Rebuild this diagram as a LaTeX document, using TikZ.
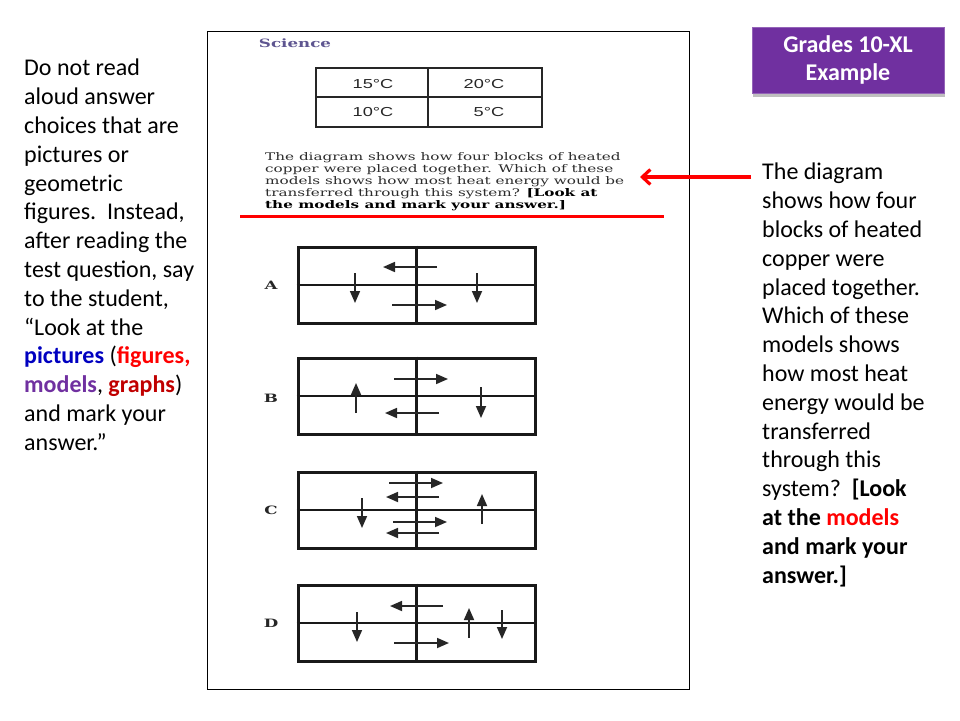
\documentclass[tikz,border=0pt]{standalone}
\usepackage{fontspec}
\setmainfont{Carlito}
\newfontfamily\scanserif[FakeStretch=1.45]{DejaVu Serif}
\newfontfamily\scansans[FakeStretch=1.4]{Liberation Sans}
\usetikzlibrary{arrows.meta,shadows}
\definecolor{slidepurple}{HTML}{7030A0}
\definecolor{darkred}{HTML}{C00000}
\definecolor{slideblue}{HTML}{0000C0}
\definecolor{scanink}{HTML}{2C2C2C}
\definecolor{scantitle}{HTML}{5E5590}
\tikzset{
  slidetext/.style={anchor=north west, inner sep=0pt, align=left, font=\fontsize{24}{28.8}\selectfont},
  gradebox/.style={draw=slidepurple!75!white, line width=1pt, fill=slidepurple, text=white, align=center,
    minimum width=192pt, minimum height=66pt, font=\bfseries\fontsize{24}{28}\selectfont,
    drop shadow={shadow xshift=1pt, shadow yshift=-4pt, opacity=0.5}},
  scantext/.style={anchor=north west, inner sep=0pt, align=left, text=scanink, font=\scanserif\fontsize{10.5}{12.1}\selectfont},
  cell/.style={text=black!85, font=\scansans\fontsize{13}{13}\selectfont},
  optlabel/.style={text=black!85, font=\scanserif\bfseries\fontsize{11.5}{12}\selectfont},
  modelbox/.style={draw=black!90, line width=3pt, minimum width=237pt, minimum height=76pt, inner sep=0pt},
  heat/.style={draw=black!85, line width=1.7pt, -{Triangle[length=12pt,width=10pt]}},
  redline/.style={draw=red, line width=3pt},
  pointer/.style={draw=red, line width=3.2pt, -{Straight Barb[length=8pt,width=15pt]}}
}
\begin{document}
\begin{tikzpicture}[x=1pt,y=-1pt]
  \useasboundingbox (0,0) rectangle (960,720);

  % left note
  \node[slidetext] (howto) at (24,59) {Do not read\\ aloud answer\\ choices that are\\ pictures or\\ geometric\\
    figures.\ \ Instead,\\ after reading the\\ test question, say\\ to the student,\\ “Look at the\\
    \textcolor{slideblue}{\textbf{pictures}} (\textcolor{red}{\textbf{figures,}}\\
    \textcolor{slidepurple}{\textbf{models}}, \textcolor{darkred}{\textbf{graphs}})\\ and mark your\\ answer.”};

  % grade label
  \node[gradebox] (grade) at (848,60) {Grades 10-XL\\Example};

  % scanned test page
  \draw[line width=0.8pt] (207,31) rectangle (689,689);
  \node[text=scantitle, font=\scanserif\bfseries\fontsize{11.5}{12}\selectfont] (subj) at (295,43) {Science};

  \draw[line width=1.6pt, draw=black!85] (316,68) rectangle (542,127);
  \draw[line width=1.6pt, draw=black!85] (428,68) -- (428,127);
  \draw[line width=1.1pt, draw=black!85] (316,97) -- (542,97);
  \node[cell] (t11) at (373,84) {15°C};
  \node[cell] (t12) at (484,84) {20°C};
  \node[cell] (t21) at (373,112) {10°C};
  \node[cell] (t22) at (489,112) {5°C};

  \node[scantext] (para) at (265,152) {The diagram shows how four blocks of heated\\
    copper were placed together. Which of these\\ models shows how most heat energy would be\\
    transferred through this system? \textbf{\color{black}[Look at}\\ \textbf{\color{black}the models and mark your answer.]}};

  \coordinate (ul1) at (240,216);
  \coordinate (ul2) at (664,216);
  \draw[redline] (ul1) -- (ul2);

  % answer models
  \node[optlabel] (la) at (271,285) {A};
  \node[optlabel] (lb) at (271,398) {B};
  \node[optlabel] (lc) at (271,510) {C};
  \node[optlabel] (ld) at (271,623) {D};
  \node[modelbox] (ma) at (416.5,285) {};
  \node[modelbox] (mb) at (416.5,396) {};
  \node[modelbox] (mc) at (416.5,510) {};
  \node[modelbox] (md) at (416.5,623) {};
  \foreach \m in {ma,mb,mc,md}{
    \draw[line width=2.2pt, draw=black!90] (\m.north) -- (\m.south);
    \draw[line width=1.8pt, draw=black!90] (\m.west) -- (\m.east);
  }
  \foreach \h/\xa/\ya/\xb/\yb in {a1/437/267/383/267, a2/355/273/355/303, a3/477/273/477/303, a4/392/305/447/305,
      b1/356/413/356/383, b2/394/379/448/379, b3/439/413/385/413, b4/481/387/481/418,
      c1/389/483/443/483, c2/439/497/386/497, c3/362/498/362/528, c4/482/524/482/494, c5/393/522/447/522, c6/439/533/386/533,
      d1/443/606/390/606, d2/357/612/357/642, d3/469/638/469/608, d4/502/610/502/639, d5/394/643/449/643}{
    \coordinate (\h s) at (\xa,\ya);
    \coordinate (\h e) at (\xb,\yb);
    \draw[heat] (\h s) -- (\h e);
  }

  % right note
  \node[slidetext] (note) at (762,163) {The diagram\\ shows how four\\ blocks of heated\\ copper were\\ placed together.\\
    Which of these\\ models shows\\ how most heat\\ energy would be\\ transferred\\ through this\\
    system?\ \ \textbf{[Look}\\ \textbf{at the \textcolor{red}{models}}\\ \textbf{and mark your}\\ \textbf{answer.]}};

  \coordinate (tail) at (751,177);
  \coordinate (tip) at (640,177);
  \draw[pointer] (tail) -- (tip);
\end{tikzpicture}
\end{document}
